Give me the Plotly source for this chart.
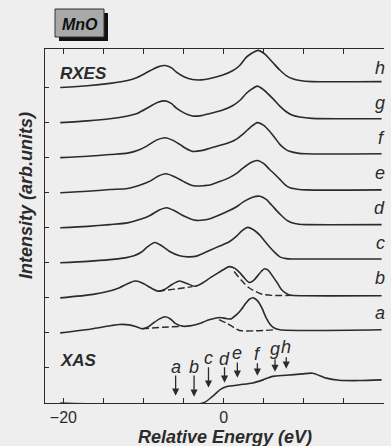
import plotly.graph_objects as go

# ---------------------------------------------------------------------------
# MnO: resonant X-ray emission spectra (RXES) a-h and the XAS edge
# Energies in eV relative to the edge; intensities are given relative to each
# spectrum's own zero level and stacked with the offsets below.
# ---------------------------------------------------------------------------
spectrum_labels = ["h", "g", "f", "e", "d", "c", "b", "a"]
spectrum_offsets = [90, 80, 70, 60, 50, 40, 30, 20]

E_h = [-20.4, -17.0, -14.2, -12.0, -10.8, -9.2, -8.2, -7.3, -6.5, -5.9, -4.9, -3.9, -2.8, -1.7,
       -0.2, 1.1, 2.0, 2.8, 3.5, 4.3, 5.1, 6.1, 7.0, 7.8, 8.6, 9.5, 11.0, 19.7]
I_h = [0.0, 0.5, 1.2, 2.0, 2.9, 4.8, 5.9, 6.3, 5.6, 4.4, 3.0, 2.3, 2.2, 2.6,
       3.5, 4.8, 6.3, 8.6, 9.8, 10.6, 9.6, 7.2, 5.0, 3.4, 2.5, 2.0, 1.7, 1.7]

E_g = [-20.4, -17.0, -14.2, -12.0, -10.8, -9.2, -8.2, -7.3, -6.5, -5.9, -4.9, -3.9, -2.8, -1.7,
       -0.2, 1.1, 2.0, 2.8, 3.4, 4.2, 5.0, 6.1, 7.0, 7.8, 8.6, 9.5, 11.0, 19.7]
I_g = [0.0, 0.5, 1.1, 1.9, 2.6, 4.6, 5.8, 6.2, 5.4, 4.1, 2.7, 1.9, 2.0, 2.6,
       3.5, 4.8, 6.3, 8.3, 9.4, 10.4, 9.3, 6.9, 4.7, 3.1, 2.1, 1.6, 1.2, 1.1]

E_f = [-20.4, -17.0, -14.2, -12.0, -10.6, -9.6, -8.4, -7.3, -6.4, -5.5, -4.7, -3.9, -2.8, -1.7,
       0.7, 1.6, 2.4, 3.3, 4.2, 5.0, 5.7, 6.4, 7.0, 7.6, 8.2, 9.2, 10.3, 19.7]
I_f = [0.0, 0.4, 0.9, 1.3, 2.2, 3.3, 5.0, 5.7, 5.0, 3.8, 2.6, 1.8, 2.0, 2.7,
       4.3, 5.3, 6.7, 8.6, 10.0, 9.2, 7.6, 5.6, 3.8, 2.6, 1.8, 1.3, 1.1, 1.1]

E_e = [-20.4, -17.0, -14.2, -12.0, -10.4, -9.2, -8.2, -7.2, -6.2, -5.1, -4.2, -3.4, -2.5, -1.7,
       0.7, 1.6, 2.4, 3.4, 4.2, 5.0, 5.7, 6.4, 7.0, 7.6, 8.2, 9.2, 10.3, 19.7]
I_e = [0.0, 0.4, 0.9, 1.2, 2.2, 3.3, 4.7, 5.4, 4.6, 3.3, 2.3, 1.9, 2.0, 2.2,
       4.3, 5.5, 7.0, 8.6, 9.2, 8.3, 6.7, 5.2, 3.8, 2.4, 1.5, 1.0, 0.8, 0.8]

E_d = [-20.4, -17.0, -14.2, -12.0, -10.4, -9.2, -8.1, -7.1, -6.1, -5.1, -4.2, -3.4, -2.5, -1.7,
       0.7, 1.6, 2.4, 3.6, 4.5, 5.3, 6.0, 6.6, 7.2, 7.9, 8.5, 9.4, 10.3, 19.7]
I_d = [0.0, 0.4, 0.9, 1.4, 2.4, 3.5, 5.0, 5.7, 4.8, 3.5, 2.6, 2.1, 2.2, 2.6,
       4.9, 6.0, 7.3, 8.7, 9.0, 8.1, 6.4, 4.9, 3.5, 2.1, 1.4, 1.0, 0.9, 0.9]

E_c = [-20.4, -17.0, -14.2, -12.3, -11.2, -10.3, -9.5, -8.6, -7.7, -6.8, -5.5, -4.4, -3.4, -1.7,
       -0.5, 0.7, 1.6, 2.3, 3.0, 3.8, 4.5, 5.1, 5.7, 6.4, 7.0, 7.8, 8.6, 19.7]
I_c = [0.0, 0.4, 0.9, 1.4, 2.0, 3.0, 4.6, 5.8, 4.8, 3.3, 2.0, 1.7, 1.9, 3.6,
       4.8, 6.0, 7.6, 9.2, 10.1, 9.3, 7.9, 6.2, 4.6, 2.9, 1.7, 1.2, 1.1, 1.1]

E_b = [-20.4, -16.3, -14.0, -13.0, -12.0, -11.1, -10.3, -9.5, -8.2, -7.4, -6.4, -5.5, -4.6, -3.6,
       -2.6, -1.7, -0.8, 0.0, 0.7, 1.4, 2.0, 2.6, 3.2, 3.7, 4.2, 4.7, 5.1, 5.6, 6.1, 6.7, 7.2,
       7.7, 8.2, 10.0, 19.7]
I_b = [0.0, 1.0, 2.1, 2.9, 4.0, 4.8, 4.4, 3.4, 1.9, 2.4, 3.9, 4.8, 4.1, 3.3,
       4.3, 5.7, 7.0, 8.1, 8.9, 8.4, 7.2, 5.6, 4.4, 4.9, 6.2, 7.6, 8.3, 7.8, 6.2, 4.2, 2.4,
       1.4, 0.8, 0.6, 0.6]

E_a = [-20.4, -16.3, -14.0, -13.0, -11.8, -11.0, -10.2, -9.5, -8.8, -8.0, -7.3, -6.6, -6.1, -5.1,
       -4.2, -3.4, -1.7, -0.5, 0.3, 0.9, 1.6, 2.2, 2.7, 3.2, 3.7, 4.2, 4.7, 5.3, 5.8, 6.3, 7.0, 19.7]
I_a = [0.0, 1.2, 2.1, 2.4, 2.3, 1.8, 1.2, 1.6, 2.8, 4.0, 4.6, 3.9, 2.8, 1.9,
       2.0, 2.4, 3.8, 4.4, 4.1, 4.0, 5.2, 6.7, 8.3, 9.6, 10.0, 9.2, 7.4, 4.3, 2.4, 1.4, 0.9, 0.9]

# Dashed backgrounds under the loss and elastic features of b and a
E_b_bg1 = [-8.2, -6.0, -3.9]
I_b_bg1 = [1.9, 2.5, 3.2]
E_b_bg2 = [1.3, 2.2, 3.2, 4.7, 6.0, 8.6]
I_b_bg2 = [7.5, 5.0, 2.8, 1.1, 0.7, 0.7]

E_a_bg1 = [-10.2, -7.6, -5.1]
I_a_bg1 = [1.2, 1.6, 1.9]
E_a_bg2 = [-0.6, 0.5, 2.0, 4.0, 6.5]
I_a_bg2 = [3.8, 2.6, 0.7, 0.6, 0.9]

# XAS edge
E_xas = [-20.4, -2.6, -1.4, -0.4, 0.4, 2.0, 3.6, 4.9, 6.1, 7.8, 9.8, 11.1, 12.8, 14.4, 16.9, 19.7]
I_xas = [0.0, 0.0, 1.9, 3.9, 4.7, 5.2, 5.7, 6.6, 7.6, 7.9, 8.3, 8.5, 7.1, 6.5, 6.4, 6.6]

# Excitation energies marked on the XAS curve
exc_labels = ["a", "b", "c", "d", "e", "f", "g", "h"]
exc_energy = [-6.0, -3.7, -1.9, 0.1, 1.7, 4.2, 6.4, 7.8]

# x-axis ticks
x_tickvals = [-20, -15, -10, -5, 0, 5, 10, 15, 20]
x_ticktext = ["\u221220", "", "", "", "0", "", "", "", "20"]

# ---------------------------------------------------------------------------
INK = "#2b2b2b"
BG = "#eeeeee"
FONT = "Liberation Sans"

W, H = 391, 446
ML, MR, MT, MB = 45, 7, 49, 43
PW, PH = W - ML - MR, H - MT - MB


def pxx(p):
    return (p - ML) / PW


def pxy(p):
    return (H - MB - p) / PH


fig = go.Figure()

line_style = dict(color=INK, width=1.6, shape="spline", smoothing=0.7)
dash_style = dict(color=INK, width=1.4, shape="spline", smoothing=0.7, dash="7px,3px")

series = [(E_h, I_h), (E_g, I_g), (E_f, I_f), (E_e, I_e),
          (E_d, I_d), (E_c, I_c), (E_b, I_b), (E_a, I_a)]
for (ex, iy), off, lab in zip(series, spectrum_offsets, spectrum_labels):
    fig.add_trace(go.Scatter(x=ex, y=[off + v for v in iy], mode="lines",
                             line=line_style, name=lab, hoverinfo="skip"))

for ex, iy, off in [(E_b_bg1, I_b_bg1, 30), (E_b_bg2, I_b_bg2, 30),
                    (E_a_bg1, I_a_bg1, 20), (E_a_bg2, I_a_bg2, 20)]:
    fig.add_trace(go.Scatter(x=ex, y=[off + v for v in iy], mode="lines",
                             line=dash_style, hoverinfo="skip"))

fig.add_trace(go.Scatter(x=E_xas, y=I_xas, mode="lines", line=line_style,
                         name="XAS", hoverinfo="skip"))

annotations = []

# spectrum letters at the right end
for off, lab in zip(spectrum_offsets, spectrum_labels):
    annotations.append(dict(x=pxx(387), xref="paper", y=off + 5.6, yref="y",
                            text=lab, showarrow=False, xanchor="right", yanchor="middle",
                            font=dict(family=FONT, size=18, color=INK, style="italic")))

# arrows marking excitation energies
arrow_tip = [2.1, 1.8, 4.4, 5.8, 7.2, 7.8, 8.9, 9.8]
arrow_tail = [8.3, 8.3, 10.6, 10.6, 12.0, 11.8, 12.9, 13.5]
label_y = [10.4, 10.4, 12.9, 12.6, 14.4, 14.1, 15.4, 15.9]
for e, lab, tip, tail, ly in zip(exc_energy, exc_labels, arrow_tip, arrow_tail, label_y):
    annotations.append(dict(x=e, y=tip, ax=e, ay=tail, xref="x", yref="y",
                            axref="x", ayref="y", text="", showarrow=True,
                            arrowhead=2, arrowsize=1.1, arrowwidth=1.3, arrowcolor=INK))
    annotations.append(dict(x=e, y=ly, xref="x", yref="y", text=lab, showarrow=False,
                            xanchor="center", yanchor="middle",
                            font=dict(family=FONT, size=18, color=INK, style="italic")))

annotations += [
    dict(x=pxx(58), y=pxy(73), xref="paper", yref="paper", text="<b><i>RXES</i></b>",
         showarrow=False, xanchor="left", yanchor="middle",
         font=dict(family=FONT, size=17, color=INK)),
    dict(x=pxx(58), y=pxy(360), xref="paper", yref="paper", text="<b><i>XAS</i></b>",
         showarrow=False, xanchor="left", yanchor="middle",
         font=dict(family=FONT, size=17, color=INK)),
    dict(x=pxx(80), y=pxy(24), xref="paper", yref="paper", text="<b><i>MnO</i></b>",
         showarrow=False, xanchor="center", yanchor="middle",
         font=dict(family=FONT, size=16, color="#111111")),
    dict(x=pxx(225), y=pxy(437), xref="paper", yref="paper",
         text="<b><i>Relative Energy (eV)</i></b>", showarrow=False,
         xanchor="center", yanchor="middle", font=dict(family=FONT, size=18, color=INK)),
    dict(x=pxx(26), y=pxy(196), xref="paper", yref="paper",
         text="<b><i>Intensity (arb.units)</i></b>", showarrow=False, textangle=-90,
         xanchor="center", yanchor="middle", font=dict(family=FONT, size=18, color=INK)),
]

shapes = [
    # shadow and box behind the sample name
    dict(type="rect", xref="paper", yref="paper", x0=pxx(59), x1=pxx(108),
         y0=pxy(41), y1=pxy(13), fillcolor="#111111", line=dict(width=0)),
    dict(type="rect", xref="paper", yref="paper", x0=pxx(55), x1=pxx(104),
         y0=pxy(37), y1=pxy(9), fillcolor="#a9a9a9", line=dict(color="#333333", width=1)),
]

fig.update_layout(
    width=W, height=H,
    margin=dict(l=ML, r=MR, t=MT, b=MB, pad=0),
    paper_bgcolor=BG, plot_bgcolor=BG,
    showlegend=False,
    annotations=annotations,
    shapes=shapes,
    xaxis=dict(range=[-22.3, 20], showline=True, linecolor=INK, linewidth=1.4,
               mirror="ticks", ticks="inside", ticklen=5, tickwidth=1.2, tickcolor=INK,
               tickvals=x_tickvals, ticktext=x_ticktext, showgrid=False, zeroline=False,
               tickfont=dict(family=FONT, size=16, color=INK)),
    yaxis=dict(range=[0, 101], showline=True, linecolor=INK, linewidth=1.4, mirror=False,
               ticks="inside", ticklen=4, tickwidth=1.2, tickcolor=INK,
               tickvals=[10, 20, 30, 40, 50, 60, 70, 80, 90], showticklabels=False,
               showgrid=False, zeroline=False),
)

fig.write_html("out.html")
